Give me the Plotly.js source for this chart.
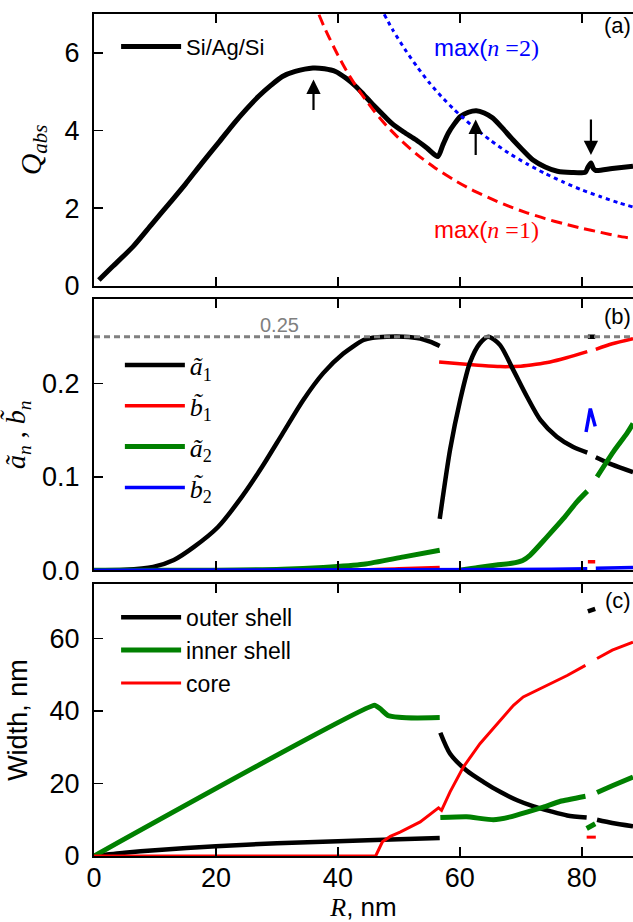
<!DOCTYPE html>
<html><head><meta charset="utf-8">
<script src="https://cdn.plot.ly/plotly-3.0.1.min.js"></script>
<style>html,body{margin:0;padding:0;background:#fff}</style>
</head><body><div id="chart" style="width:633px;height:922px"></div>
<script>
// ---------- Panel (a): absorption efficiency ----------
const R_q = [0.8, 3, 6.4, 9.5, 12.4, 15, 17.7, 20.5, 23.0, 25, 27.0, 29, 30.9, 33, 35.9, 37.8, 39.6, 41.3, 42.9, 44.2, 45.5, 47.2, 48.8, 50.8, 52.8, 54.6, 56.4, 57.2, 58.1, 59.1, 60.1, 61.4, 62.7, 64, 65.4, 67, 68.7, 70.3, 72.0, 74, 76.0, 78.3, 80.6, 81.0, 81.5, 81.9, 82.3, 85, 88.4];
const Q_abs = [0.15, 0.49, 1.01, 1.59, 2.13, 2.62, 3.16, 3.70, 4.19, 4.55, 4.88, 5.16, 5.39, 5.52, 5.61, 5.59, 5.52, 5.35, 5.14, 4.93, 4.71, 4.44, 4.19, 3.96, 3.76, 3.55, 3.33, 3.62, 3.93, 4.17, 4.36, 4.47, 4.51, 4.45, 4.32, 4.06, 3.76, 3.50, 3.24, 3.06, 2.95, 2.92, 2.93, 3.05, 3.16, 3.02, 2.97, 3.02, 3.08];
const R_n1 = [36.9, 38, 40, 42, 44, 46, 48, 50, 53, 56, 59, 62, 65, 68, 71, 74, 77, 80, 83, 86, 88.4];
const Q_n1 = [6.98, 6.58, 5.94, 5.38, 4.91, 4.49, 4.12, 3.80, 3.38, 3.03, 2.73, 2.47, 2.25, 2.05, 1.88, 1.73, 1.60, 1.48, 1.38, 1.28, 1.22];
const R_n2 = [47.6, 49, 51, 53, 55, 57, 59, 62, 65, 68, 71, 74, 77, 80, 83, 86, 88.4];
const Q_n2 = [6.99, 6.59, 6.09, 5.64, 5.23, 4.87, 4.55, 4.12, 3.75, 3.42, 3.14, 2.89, 2.67, 2.47, 2.30, 2.14, 2.03];
// arrows: [R, tail Q, head Q]
const arrowsA = [[36.0, 4.49, 5.31], [62.6, 3.33, 4.28], [81.5, 4.32, 3.37]];

// ---------- Panel (b): normalized multipoles ----------
const R_a1 = [0, 5, 9.7, 13.1, 16.4, 20.3, 24.3, 27.6, 30.9, 34.3, 37.6, 40.9, 44.2, 45.7, 48, 50.8, 53.5, 55.1, 56.7, null,
              56.7, 58.4, 60.05, 61.7, 63.3, 64.7, 66.6, 68.8, 71.0, 73.2, 75.9, 78.6, 80.9, null,
              82.3, 85, 88.4, null, 81.0, 82.2];
const a1 = [0, 0.0005, 0.0036, 0.011, 0.025, 0.046, 0.079, 0.111, 0.146, 0.182, 0.211, 0.232, 0.2465, 0.249, 0.25, 0.25, 0.248, 0.2447, 0.240, null,
            0.055, 0.129, 0.182, 0.223, 0.243, 0.25, 0.241, 0.214, 0.186, 0.161, 0.143, 0.132, 0.126, null,
            0.121, 0.113, 0.105, null, 0.25, 0.25];
const R_b1 = [0, 44, 50, 56.7, null, 56.6, 60, 63, 66.6, 70, 72.5, 74.8, 77.5, 80.9, null, 82.3, 85, 88.4, null, 81.0, 82.2];
const b1 = [0, 0.0005, 0.0015, 0.003, null, 0.223, 0.221, 0.2195, 0.218, 0.2185, 0.2205, 0.223, 0.2275, 0.234, null, 0.2365, 0.2425, 0.248, null, 0.009, 0.009];
const R_a2 = [0, 20, 30.9, 37.6, 44.2, 50.8, 56.7, null, 60.0, 63, 66, 68.5, 70.3, 71.5, 74.3, 77.0, 79.2, 80.9, null, 82.5, 85.2, 87.4, 88.4];
const a2 = [0, 0, 0.001, 0.003, 0.0064, 0.0143, 0.0214, null, 0.0, 0.003, 0.0055, 0.0075, 0.0105, 0.016, 0.0357, 0.0554, 0.0732, 0.0847, null, 0.100, 0.127, 0.1465, 0.157];
const R_b2 = [0, 60, 75, 80.9, null, 82.3, 88.4, null, 80.7, 81.4, 82.2];
const b2 = [0, 0.0003, 0.001, 0.0015, null, 0.002, 0.003, null, 0.148, 0.173, 0.154];
const R_ref = [0, 88.4];
const refLevel = [0.25, 0.25];

// ---------- Panel (c): layer widths ----------
const R_out = [0, 5, 10, 20, 30, 40, 50, 56.7, null, 56.8, 58.4, 61.1, 63.9, 66.6, 69.4, 72.1, 74.8, 77.6, 80.8, null, 82.5, 85, 88.4, null, 81.0, 82.2];
const W_out = [0, 0.9, 1.6, 2.7, 3.5, 4.1, 4.6, 5.0, null, 34.0, 28.2, 23.6, 20.4, 17.7, 15.4, 13.7, 12.4, 11.2, 10.6, null, 10.0, 9.1, 8.2, null, 67.5, 68.2];
const R_in = [0, 46.0, 46.9, 48.2, 50, 53, 56.7, null, 56.8, 61.1, 65.5, 68.3, 71.0, 73.7, 76.5, 80.6, null, 82.5, 85, 88.4, null, 80.8, 82.2];
const W_in = [0, 41.6, 40.7, 38.8, 38.3, 38.1, 38.2, null, 10.6, 10.8, 10.0, 10.8, 12.1, 13.5, 15.1, 16.5, null, 17.5, 19.4, 21.8, null, 7.6, 8.9];
const R_core = [0, 46.2, 47.3, 48.6, 50.2, 53.5, 56.5, 57.0, 58.4, 60.6, 63.3, 66.1, 68.8, 70.4, 73.7, 77.6, 80.6, null, 82.5, 85, 88.4, null, 80.8, 82.3];
const W_core = [0, 0, 3.9, 5.4, 6.6, 9.4, 13.3, 12.6, 17.7, 24.6, 31.0, 36.5, 41.6, 43.9, 46.6, 49.8, 52.6, null, 54.5, 56.8, 59.0, null, 5.2, 5.2];

const xTicks = [0, 20, 40, 60, 80];

const SANS = 'Liberation Sans, Arial, sans-serif';
const SERIF = 'Liberation Serif, Times New Roman, serif';
const BLACK = '#000000', RED = '#ff0000', GREEN = '#008000', BLUE = '#0000ff', GRAY = '#808080';
const SM = 0.7;

const traces = [
  {x: R_q, y: Q_abs, xaxis: 'x3', yaxis: 'y3', mode: 'lines', name: 'Si/Ag/Si', legend: 'legend',
   line: {color: BLACK, width: 5, shape: 'spline', smoothing: SM}},
  {x: R_n1, y: Q_n1, xaxis: 'x3', yaxis: 'y3', mode: 'lines', showlegend: false,
   line: {color: RED, width: 3, dash: '11px,6px', shape: 'spline', smoothing: SM}},
  {x: R_n2, y: Q_n2, xaxis: 'x3', yaxis: 'y3', mode: 'lines', showlegend: false,
   line: {color: BLUE, width: 3, dash: '4px,4px', shape: 'spline', smoothing: SM}},

  {x: R_b1, y: b1, xaxis: 'x2', yaxis: 'y2', mode: 'lines', name: '<i>b\u0303</i><sub>1</sub>', legend: 'legend2', legendrank: 2, legendgroup: 'g2',
   line: {color: RED, width: 3.5, shape: 'spline', smoothing: SM}, connectgaps: false},
  {x: R_a1, y: a1, xaxis: 'x2', yaxis: 'y2', mode: 'lines', name: '<i>ã</i><sub>1</sub>', legend: 'legend2', legendrank: 1, legendgroup: 'g1',
   line: {color: BLACK, width: 4.5, shape: 'spline', smoothing: SM}, connectgaps: false},
  {x: R_a2, y: a2, xaxis: 'x2', yaxis: 'y2', mode: 'lines', name: '<i>ã</i><sub>2</sub>', legend: 'legend2', legendrank: 3, legendgroup: 'g3',
   line: {color: GREEN, width: 5, shape: 'spline', smoothing: SM}, connectgaps: false},
  {x: R_b2, y: b2, xaxis: 'x2', yaxis: 'y2', mode: 'lines', name: '<i>b\u0303</i><sub>2</sub>', legend: 'legend2', legendrank: 4, legendgroup: 'g4',
   line: {color: BLUE, width: 3.5}, connectgaps: false},
  {x: R_ref, y: refLevel, xaxis: 'x2', yaxis: 'y2', mode: 'lines', showlegend: false,
   line: {color: GRAY, width: 3, dash: '6px,4px'}},

  {x: R_out, y: W_out, xaxis: 'x', yaxis: 'y', mode: 'lines', name: 'outer shell', legend: 'legend3', legendgroup: 'c1',
   line: {color: BLACK, width: 4.5, shape: 'spline', smoothing: SM}, connectgaps: false},
  {x: R_in, y: W_in, xaxis: 'x', yaxis: 'y', mode: 'lines', name: 'inner shell', legend: 'legend3', legendgroup: 'c2',
   line: {color: GREEN, width: 5, shape: 'spline', smoothing: 0.4}, connectgaps: false},
  {x: R_core, y: W_core, xaxis: 'x', yaxis: 'y', mode: 'lines', name: 'core', legend: 'legend3', legendgroup: 'c3',
   line: {color: RED, width: 3}, connectgaps: false}
];

const xBase = {range: [0, 88.4], tickvals: xTicks, ticks: 'inside', ticklen: 9, tickwidth: 1.5, tickcolor: BLACK,
  showline: true, linewidth: 2, linecolor: BLACK, mirror: 'ticks', showgrid: false, zeroline: false,
  tickfont: {family: SANS, size: 27, color: BLACK}};
const yBase = {ticks: 'inside', ticklen: 9, tickwidth: 1.5, tickcolor: BLACK, showline: true, linewidth: 2, linecolor: BLACK,
  mirror: false, showgrid: false, zeroline: false, ticklabelstandoff: 7, tickfont: {family: SANS, size: 27, color: BLACK}};
const yRight = {ticks: 'inside', ticklen: 9, tickwidth: 1.5, tickcolor: BLACK, showline: false, showgrid: false,
  zeroline: false, showticklabels: false, side: 'right'};

const annotations = [
  {xref: 'x3', yref: 'y3', x: 64.4, y: 6.13, text: 'max(<span style="font-family:' + SERIF + '"><i>n</i> =2)</span>', showarrow: false,
   font: {family: SANS, size: 24, color: BLUE}},
  {xref: 'x3', yref: 'y3', x: 64.4, y: 1.44, text: 'max(<span style="font-family:' + SERIF + '"><i>n</i> =1)</span>', showarrow: false,
   font: {family: SANS, size: 24, color: RED}},
  {xref: 'paper', yref: 'y3', x: 1, y: 6.71, xanchor: 'right', text: '(a)', showarrow: false, font: {family: SANS, size: 22, color: BLACK}},
  {xref: 'paper', yref: 'y2', x: 1, y: 0.2712, xanchor: 'right', text: '(b)', showarrow: false, font: {family: SANS, size: 22, color: BLACK}},
  {xref: 'paper', yref: 'y', x: 1, y: 70.5, xanchor: 'right', text: '(c)', showarrow: false, font: {family: SANS, size: 22, color: BLACK}},
  {xref: 'x2', yref: 'y2', x: 30.5, y: 0.2626, text: '0.25', showarrow: false, font: {family: SANS, size: 20, color: GRAY}}
];
arrowsA.forEach(a => annotations.push({xref: 'x3', yref: 'y3', axref: 'x3', ayref: 'y3', x: a[0], y: a[2], ax: a[0], ay: a[1],
  text: '', showarrow: true, arrowhead: 2, arrowsize: 1.3, arrowwidth: 2.2, arrowcolor: BLACK}));

const layout = {
  width: 633, height: 922, margin: {l: 94, r: 0, t: 14, b: 66},
  paper_bgcolor: '#fff', plot_bgcolor: '#fff', showlegend: true,
  xaxis: Object.assign({}, xBase, {anchor: 'y', ticklabelstandoff: -3, title: {text: '<span style="font-family:' + SERIF + '"><i>R</i></span>, nm', font: {family: SANS, size: 26, color: BLACK}, standoff: 9}}),
  xaxis2: Object.assign({}, xBase, {anchor: 'y2', showticklabels: false}),
  xaxis3: Object.assign({}, xBase, {anchor: 'y3', showticklabels: false}),
  yaxis: Object.assign({}, yBase, {domain: [0, 0.3228], range: [0, 75], tickvals: [0, 20, 40, 60], anchor: 'x',
    title: {text: 'Width, nm', font: {family: SANS, size: 27, color: BLACK}, standoff: 14}}),
  yaxis2: Object.assign({}, yBase, {domain: [0.3394, 0.6611], range: [0, 0.29], tickvals: [0, 0.1, 0.2], ticktext: ['0.0', '0.1', '0.2'], anchor: 'x2',
    title: {text: '<i>ã<sub>n</sub></i> , <i>b\u0303<sub>n</sub></i>', font: {family: SERIF, size: 28, color: BLACK}, standoff: 14}}),
  yaxis3: Object.assign({}, yBase, {domain: [0.6772, 1], range: [0, 7], tickvals: [0, 2, 4, 6], anchor: 'x3',
    title: {text: '<i>Q<sub>abs</sub></i>', font: {family: SERIF, size: 30, color: BLACK}, standoff: 14}}),
  yaxis4: Object.assign({}, yRight, {overlaying: 'y3', anchor: 'x3', range: [0, 7], tickvals: [0, 2, 4, 6]}),
  yaxis5: Object.assign({}, yRight, {overlaying: 'y2', anchor: 'x2', range: [0, 0.29], tickvals: [0, 0.1, 0.2]}),
  yaxis6: Object.assign({}, yRight, {overlaying: 'y', anchor: 'x', range: [0, 75], tickvals: [0, 20, 40, 60]}),
  legend: {x: 0.041, y: 0.9612, xanchor: 'left', yanchor: 'middle', bgcolor: 'rgba(0,0,0,0)', itemwidth: 60,
    font: {family: SANS, size: 22, color: BLACK}},
  legend2: {x: 0.048, y: 0.51, xanchor: 'left', yanchor: 'middle', bgcolor: 'rgba(0,0,0,0)', traceorder: 'grouped', tracegroupgap: 4, itemwidth: 60,
    font: {family: SERIF, size: 26, color: BLACK}},
  legend3: {x: 0.041, y: 0.2444, xanchor: 'left', yanchor: 'middle', bgcolor: 'rgba(0,0,0,0)', traceorder: 'grouped', tracegroupgap: 0, itemwidth: 60,
    font: {family: SANS, size: 23, color: BLACK}},
  annotations: annotations
};

Plotly.newPlot('chart', traces, layout, {staticPlot: true, displayModeBar: false});
</script></body></html>
